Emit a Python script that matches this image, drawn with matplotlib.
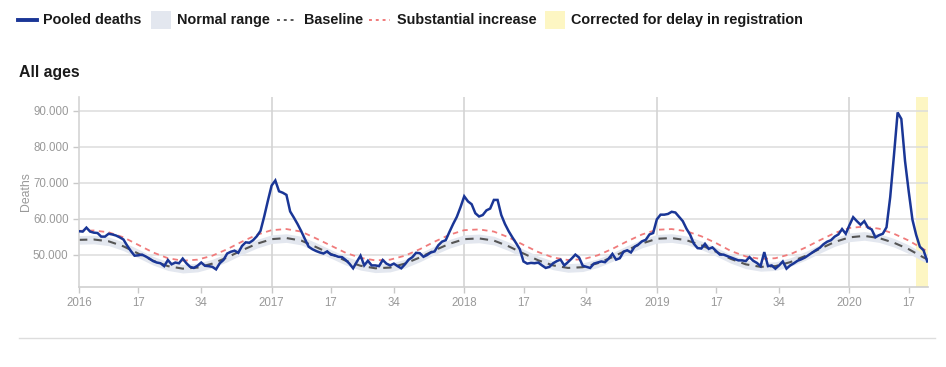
import numpy as np
import matplotlib
matplotlib.use("Agg")
import matplotlib.pyplot as plt
from matplotlib.lines import Line2D
from matplotlib.patches import Rectangle
from matplotlib.ticker import FuncFormatter

# ---------------- data (deaths in thousands, weekly from 2016 week 1) ----------------
deaths_2016 = [56.5, 56.4, 57.5, 56.4, 56.1, 56.0, 55.0, 55.0, 55.8, 55.6,
               55.3, 54.8, 54.2, 52.5, 51.0, 49.7, 49.8, 50.0, 49.5, 48.9,
               48.2, 47.8, 47.6, 46.8, 48.5, 47.3, 47.8, 47.6, 48.9, 47.6,
               46.6, 46.3, 46.9, 47.8, 46.9, 46.8, 46.6, 45.9, 47.6, 48.5,
               50.3, 50.8, 51.1, 50.5, 52.4, 53.4, 53.3, 54.0, 55.1, 56.6,
               60.6, 65.0]
deaths_2017 = [69.2, 70.6, 67.6, 67.2, 66.6, 62.0, 60.3, 58.5, 56.5, 54.3,
               52.2, 51.5, 51.0, 50.6, 50.3, 50.9, 50.0, 49.8, 49.4, 49.3,
               48.5, 47.5, 46.2, 48.0, 49.7, 47.0, 48.3, 47.0, 47.0, 46.8,
               48.5, 47.5, 47.0, 47.5, 46.8, 46.2, 47.3, 48.6, 49.3, 50.5,
               50.4, 49.4, 49.9, 50.6, 50.9, 52.6, 53.6, 54.0, 56.3, 58.5,
               60.5, 63.2]
deaths_2018 = [66.2, 64.8, 64.0, 61.5, 60.6, 61.0, 62.3, 62.8, 65.2, 65.2,
               61.0, 58.5, 56.5, 54.8, 53.2, 51.5, 48.1, 47.5, 47.7, 47.6,
               47.8, 47.0, 46.3, 46.6, 47.6, 48.2, 48.6, 47.0, 47.9, 48.9,
               50.0, 49.2, 46.9, 46.6, 46.3, 47.5, 47.8, 48.1, 47.9, 48.9,
               50.2, 48.6, 49.0, 50.8, 51.2, 50.6, 52.2, 52.8, 53.7, 54.1,
               55.6, 56.0]
deaths_2019 = [59.8, 61.1, 61.1, 61.3, 61.9, 61.7, 60.5, 59.3, 57.2, 55.5,
               53.0, 51.8, 51.7, 53.0, 51.6, 52.0, 51.0, 50.0, 50.0, 49.6,
               49.2, 48.8, 48.4, 48.4, 48.2, 49.3, 48.3, 47.7, 46.8, 50.7,
               46.8, 47.0, 46.1, 47.0, 48.1, 46.1, 47.0, 47.6, 48.3, 48.7,
               49.2, 49.9, 50.6, 51.3, 51.9, 52.9, 53.6, 54.0, 55.0, 55.6,
               57.1, 55.8]
deaths_2020 = [58.2, 60.4, 59.3, 58.3, 59.3, 57.5, 57.0, 54.8, 55.4, 55.8,
               57.6, 66.0, 77.5, 89.5, 87.7, 76.0, 67.5, 59.7, 55.5, 52.2,
               51.2, 48.1]

# baseline, normal range and substantial-increase threshold, read every 4 weeks
base_weeks = list(range(0, 229, 4)) + [229]
baseline_k = [54.1, 54.2, 53.7, 52.3, 50.3, 48.3, 46.8, 46.1, 46.4, 47.5, 49.2, 51.2, 53.0,
              54.3, 54.6, 53.9, 52.1, 50.2, 48.3, 46.9, 46.2, 46.4, 47.5, 49.2, 51.2, 53.0,
              54.3, 54.5, 53.9, 52.3, 50.3, 48.4, 47.0, 46.3, 46.5, 47.6, 49.3, 51.3, 53.1,
              54.4, 54.6, 54.0, 52.6, 50.8, 48.8, 47.3, 46.6, 46.8, 47.9, 49.6, 51.6, 53.5,
              54.8, 55.2, 54.6, 53.3, 51.5, 49.2, 48.7]
range_upper_k = [55.3, 55.4, 54.9, 53.5, 51.5, 49.5, 48.0, 47.3, 47.6, 48.7, 50.4, 52.4, 54.2,
                 55.5, 55.8, 55.1, 53.3, 51.4, 49.5, 48.1, 47.4, 47.6, 48.7, 50.4, 52.4, 54.2,
                 55.5, 55.7, 55.1, 53.5, 51.5, 49.6, 48.2, 47.5, 47.7, 48.8, 50.5, 52.5, 54.3,
                 55.6, 55.8, 55.2, 53.8, 52.0, 50.0, 48.5, 47.8, 48.0, 49.1, 50.8, 52.8, 54.7,
                 56.0, 56.4, 55.8, 54.5, 52.7, 50.3, 49.6]
range_lower_k = [52.9, 53.0, 52.5, 51.1, 49.1, 47.1, 45.6, 44.9, 45.2, 46.3, 48.0, 50.0, 51.8,
                 53.1, 53.4, 52.7, 50.9, 49.0, 47.1, 45.7, 45.0, 45.2, 46.3, 48.0, 50.0, 51.8,
                 53.1, 53.3, 52.7, 51.1, 49.1, 47.2, 45.8, 45.1, 45.3, 46.4, 48.1, 50.1, 51.9,
                 53.2, 53.4, 52.8, 51.4, 49.6, 47.6, 46.1, 45.4, 45.6, 46.7, 48.4, 50.4, 52.3,
                 53.6, 54.0, 53.4, 52.1, 50.3, 48.1, 47.8]
substantial_k = [56.6, 56.7, 56.2, 54.8, 52.7, 50.6, 49.0, 48.3, 48.6, 49.7, 51.5, 53.6, 55.5,
                 56.8, 57.1, 56.4, 54.5, 52.5, 50.5, 49.1, 48.4, 48.6, 49.7, 51.5, 53.6, 55.5,
                 56.8, 57.0, 56.4, 54.8, 52.7, 50.7, 49.2, 48.5, 48.7, 49.8, 51.6, 53.7, 55.6,
                 56.9, 57.1, 56.5, 55.1, 53.2, 51.0, 49.5, 48.8, 49.0, 50.1, 51.9, 54.0, 56.0,
                 57.4, 57.8, 57.2, 55.8, 53.9, 51.5, 51.0]

tick_weeks = [0, 16, 33, 52, 68, 85, 104, 120, 137, 156, 172, 189, 208, 224]
tick_labels = ["2016", "17", "34", "2017", "17", "34", "2018", "17", "34",
               "2019", "17", "34", "2020", "17"]
year_start_weeks = [52, 104, 156, 208]
delay_start_week = 226
y_ticks = [50000, 60000, 70000, 80000, 90000]

# ---------------- figure ----------------
plt.rcParams['font.family'] = ['Liberation Sans', 'DejaVu Sans']
W, H = 946, 367
fig = plt.figure(figsize=(W / 100, H / 100), dpi=100)

L, R, T, B = 79, 928, 97, 287
ax = fig.add_axes([L / W, 1 - B / H, (R - L) / W, (B - T) / H])

deaths = np.array(deaths_2016 + deaths_2017 + deaths_2018 + deaths_2019 + deaths_2020) * 1000
weeks = np.arange(len(deaths))
last_week = weeks[-1]

ax.axvspan(delay_start_week, last_week + 0.2, color='#fdf6c3', lw=0, zorder=0.1)
for w in year_start_weeks:
    ax.axvline(w, color='#d4d4d4', lw=1.2, zorder=0.6)
ax.fill_between(base_weeks, np.array(range_lower_k) * 1000, np.array(range_upper_k) * 1000,
                color='#e3e7ef', lw=0, zorder=1)
ax.plot(base_weeks, np.array(substantial_k) * 1000, color='#f07b7b', lw=1.3,
        ls=(0, (3, 2.5)), zorder=2)
ax.plot(base_weeks, np.array(baseline_k) * 1000, color='#555555', lw=1.5,
        ls=(0, (4, 3)), zorder=2)
ax.plot(weeks, deaths, color='#1a3696', lw=1.8, zorder=3, solid_joinstyle='miter')

ax.set_xlim(0, last_week + 0.2)
ax.set_ylim(41000, 93800)
ax.set_yticks(y_ticks)
ax.yaxis.set_major_formatter(FuncFormatter(lambda v, p: f"{int(v):,}".replace(",", ".")))
ax.set_xticks(tick_weeks)
ax.set_xticklabels(tick_labels)
ax.set_axisbelow(True)
ax.yaxis.grid(True, color='#dcdcdc', lw=1.1, zorder=0.5)

for s in ['top', 'right']:
    ax.spines[s].set_visible(False)
ax.spines['left'].set_color('#d4d4d4')
ax.spines['left'].set_linewidth(1.2)
ax.spines['bottom'].set_color('#cfcfcf')
ax.spines['bottom'].set_linewidth(1.2)
ax.tick_params(axis='both', colors='#c8c8c8', labelcolor='#999999', labelsize=8.3,
               length=4, width=1)
ax.set_ylabel("Deaths", color='#999999', fontsize=8.8, labelpad=1)

# ---------------- title & legend ----------------
fig.text(19 / W, 1 - 73 / H, "All ages", fontsize=11.4, fontweight='bold',
         color='#1a1a1a', va='center', ha='left')

ly = 1 - 20 / H
lfs = 10.4
def ftxt(x, s):
    fig.text(x / W, ly, s, fontsize=lfs, fontweight='bold', color='#1a1a1a',
             va='center', ha='left')

fig.add_artist(Line2D([18 / W, 37 / W], [ly, ly], transform=fig.transFigure,
                      color='#1a3696', lw=2.8))
ftxt(43, "Pooled deaths")
fig.add_artist(Rectangle((151 / W, ly - 9 / H), 20 / W, 18 / H, transform=fig.transFigure,
                         color='#e3e7ef', lw=0))
ftxt(177, "Normal range")
fig.add_artist(Line2D([277 / W, 297 / W], [ly, ly], transform=fig.transFigure,
                      color='#555555', lw=1.4, ls=(0, (1.5, 2))))
ftxt(304, "Baseline")
fig.add_artist(Line2D([369 / W, 390 / W], [ly, ly], transform=fig.transFigure,
                      color='#f07b7b', lw=1.4, ls=(0, (1.5, 2))))
ftxt(397, "Substantial increase")
fig.add_artist(Rectangle((545 / W, ly - 9 / H), 20 / W, 18 / H, transform=fig.transFigure,
                         color='#fdf6c3', lw=0))
ftxt(571, "Corrected for delay in registration")

fig.add_artist(Line2D([19 / W, 935 / W], [1 - 338 / H, 1 - 338 / H], transform=fig.transFigure,
                      color='#dddddd', lw=1))

fig.savefig("out.png", dpi=100)
